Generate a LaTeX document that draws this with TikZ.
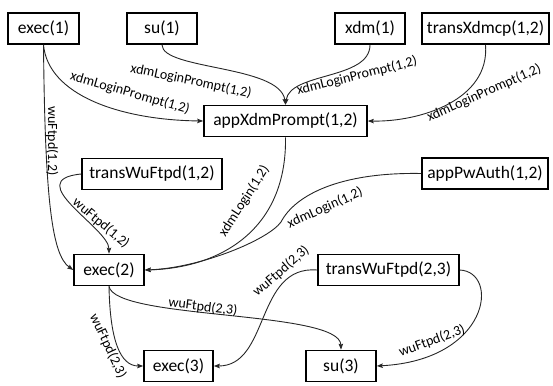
\documentclass[tikz,border=0pt]{standalone}
\usepackage{fontspec}
\setmainfont{Carlito}
\usetikzlibrary{arrows.meta}

\tikzset{
  box/.style={draw=black, line width=1.6pt, fill=white, inner sep=0pt,
    minimum height=31pt, font=\fontsize{17.5}{20}\selectfont},
  edge/.style={draw=black!85, line width=0.9pt,
    -{Stealth[length=6pt,width=4.5pt,inset=1pt]}},
  lbl/.style={inner sep=0pt, font=\fontsize{14}{16}\selectfont},
}

\begin{document}
\begin{tikzpicture}[x=1pt, y=-1pt]
\useasboundingbox (0,0) rectangle (553,385);

% process boxes
\node[box, minimum width=71pt]  (e1)   at (43.5,28.5)  {exec(1)};
\node[box, minimum width=70pt]  (su1)  at (162,28.5)   {su(1)};
\node[box, minimum width=70pt]  (xdm)  at (370,28.5)   {xdm(1)};
\node[box, minimum width=127pt] (txc)  at (485.5,28.5) {transXdmcp(1,2)};
\node[box, minimum width=163pt] (axp)  at (285.5,121)  {appXdmPrompt(1,2)};
\node[box, minimum width=140pt] (tw12) at (152,174)    {transWuFtpd(1,2)};
\node[box, minimum width=126pt] (apa)  at (485,173.5)  {appPwAuth(1,2)};
\node[box, minimum width=70pt]  (e2)   at (109,270)    {exec(2)};
\node[box, minimum width=141pt] (tw23) at (388.5,270)  {transWuFtpd(2,3)};
\node[box, minimum width=69pt]  (e3)   at (178.5,366)  {exec(3)};
\node[box, minimum width=70pt]  (su3)  at (341,366)    {su(3)};

% login prompt flows
\draw[edge] (e1.south) .. controls (48,95) and (120,120) .. (axp.west)
  node[lbl, rotate=-16] at (130,93) {xdmLoginPrompt(1,2)};
\draw[edge] (su1.south) .. controls (162,70) and (280,65) .. (axp.north)
  node[lbl, rotate=-12] at (191,81) {xdmLoginPrompt(1,2)};
\draw[edge] (xdm.south) .. controls (370,80) and (290,72) .. (axp.north)
  node[lbl, rotate=14] at (357,76) {xdmLoginPrompt(1,2)};
\draw[edge] (txc.south) .. controls (490,100) and (420,122) .. (axp.east)
  node[lbl, rotate=24] at (484,93) {xdmLoginPrompt(1,2)};

% ftp flows into exec(2)
\draw[edge] (e1.south) .. controls (45,200) and (52,255) .. (e2.west)
  node[lbl, rotate=-90] at (52,141) {wuFtpd(1,2)};
\draw[edge] (tw12.west) .. controls (20,180) and (109,228) .. (e2.north)
  node[lbl, rotate=-40] at (101,223) {wuFtpd(1,2)};

% login flows into exec(2)
\draw[edge] (axp.south) .. controls (287,230) and (220,268) .. (e2.east)
  node[lbl, rotate=57] at (244,201) {xdmLogin(1,2)};
\draw[edge] (apa.west) .. controls (340,172) and (295,195) .. (281,222)
  .. controls (268,240) and (200,268) .. (e2.east)
  node[lbl, rotate=24] at (325,208) {xdmLogin(1,2)};

% ftp flows to level 3
\draw[edge] (e2.south) .. controls (110,340) and (120,366) .. (e3.west)
  node[lbl, rotate=-65] at (108,346) {wuFtpd(2,3)};
\draw[edge] (e2.south) .. controls (115,320) and (340,310) .. (su3.north)
  node[lbl, rotate=-7] at (203,307) {wuFtpd(2,3)};
\draw[edge] (tw23.west) .. controls (255,265) and (270,366) .. (e3.east)
  node[lbl, rotate=41] at (281,271) {wuFtpd(2,3)};
\draw[edge] (tw23.east) .. controls (500,272) and (490,360) .. (su3.east)
  node[lbl, rotate=20] at (432,341) {wuFtpd(2,3)};
\end{tikzpicture}
\end{document}
